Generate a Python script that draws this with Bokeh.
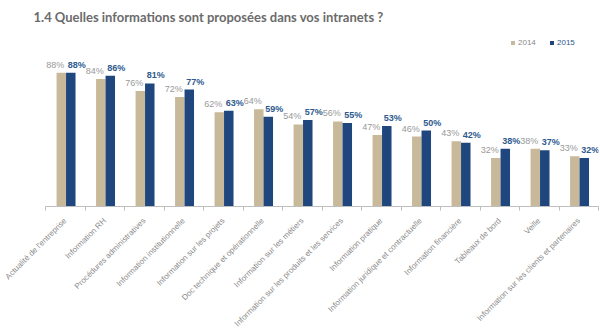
import math
from bokeh.plotting import figure
from bokeh.models import ColumnDataSource, Range1d, FixedTicker, Legend, LegendItem
from bokeh.core.properties import value
from bokeh.embed import file_html
from bokeh.resources import INLINE

categories = [
    "Actualité de l'entreprise",
    "Information RH",
    "Procédures administratives",
    "Information institutionnelle",
    "Information sur les projets",
    "Doc technique et opérationnelle",
    "Information sur les métiers",
    "Information sur les produits et les services",
    "Information pratique",
    "Information juridique et contractuelle",
    "Information financière",
    "Tableaux de bord",
    "Veille",
    "Information sur les clients et partenaires",
]
values_2014 = [88, 84, 76, 72, 62, 64, 54, 56, 47, 46, 43, 32, 38, 33]
values_2015 = [88, 86, 81, 77, 63, 59, 57, 55, 53, 50, 42, 38, 37, 32]
series_names = ["2014", "2015"]
title_text = "1.4 Quelles informations sont proposées dans vos intranets ?"

C14 = "#C9B99B"
C15 = "#1F477E"
FONT = "Liberation Sans"

n = len(categories)
idx = list(range(n))
src = ColumnDataSource(dict(
    x14=[i + 0.02 - 0.12 for i in idx],
    x15=[i + 0.02 + 0.12 for i in idx],
    v14=values_2014,
    v15=values_2015,
    t14=[f"{v}%" for v in values_2014],
    t15=[f"{v}%" for v in values_2015],
))

p = figure(width=600, height=334, output_backend="svg", toolbar_location=None,
           x_range=Range1d(-0.5, n - 0.5), y_range=Range1d(0, 182 / 1.58),
           min_border_left=45, min_border_right=2, min_border_top=30,
           min_border_bottom=122)
p.outline_line_color = None
p.grid.visible = False
p.yaxis.visible = False
p.background_fill_color = "white"

r14 = p.vbar(x="x14", top="v14", width=0.24, source=src, fill_color=C14, line_color=None)
r15 = p.vbar(x="x15", top="v15", width=0.24, source=src, fill_color=C15, line_color=None)

p.text(x="x14", y="v14", text="t14", source=src, text_align="center",
       text_baseline="bottom", x_offset=-6, y_offset=-3,
       text_font=value(FONT), text_font_size="9px", text_color="#999999")
p.text(x="x15", y="v15", text="t15", source=src, text_align="center",
       text_baseline="bottom", x_offset=6, y_offset=-3,
       text_font=value(FONT), text_font_size="9px", text_color="#2E5A8E",
       text_font_style="bold")

ax = p.xaxis[0]
ax.ticker = FixedTicker(ticks=idx, minor_ticks=[i - 0.5 for i in range(n + 1)])
ax.major_label_overrides = {i: c for i, c in enumerate(categories)}
ax.major_label_orientation = math.pi / 4
ax.major_tick_out = 0
ax.major_tick_in = 0
ax.minor_tick_out = 4
ax.minor_tick_in = 0
ax.minor_tick_line_color = "#BFBFBF"
ax.axis_line_color = "#BFBFBF"
ax.major_label_text_font = FONT
ax.major_label_text_font_size = "8px"
ax.major_label_text_color = "#8A8A8A"
ax.major_label_standoff = 9

p.title.text = title_text
p.title.align = "left"
p.title.offset = -12
p.title.text_font = "Lato"
p.title.text_font_size = "13px"
p.title.text_font_style = "bold"
p.title.text_color = "#6B6B6B"
p.title.standoff = 13

leg14 = Legend(items=[LegendItem(label=series_names[0], renderers=[r14])],
               location=(465, 159), orientation="horizontal",
               glyph_width=5, glyph_height=5, label_text_font=FONT,
               label_text_font_size="8px", label_text_color="#8A8A8A",
               padding=0, margin=0, label_standoff=3, border_line_color=None,
               background_fill_alpha=0)
leg15 = Legend(items=[LegendItem(label=series_names[1], renderers=[r15])],
               location=(504, 159), orientation="horizontal",
               glyph_width=5, glyph_height=5, label_text_font=FONT,
               label_text_font_size="8px", label_text_color="#2E5A8E",
               padding=0, margin=0, label_standoff=3, border_line_color=None,
               background_fill_alpha=0)
p.add_layout(leg14)
p.add_layout(leg15)

open("out.html", "w").write(file_html(p, INLINE))
